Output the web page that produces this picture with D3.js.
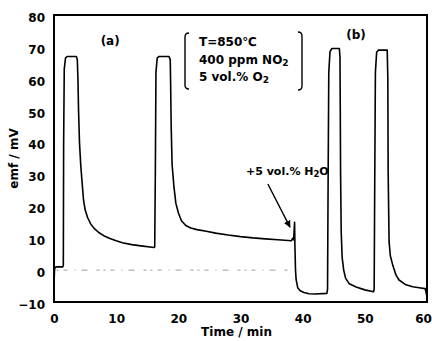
<!DOCTYPE html>
<html>
<head>
<meta charset="utf-8">
<script src="https://cdn.jsdelivr.net/npm/d3@7"></script>
<style>
  body { margin: 0; background: #fff; }
  text { font-family: "DejaVu Sans", sans-serif; font-weight: bold; fill: #000; }
</style>
</head>
<body>
<svg id="chart" width="432" height="341"></svg>
<script>
// emf trace: [time / min, emf / mV]
const emfTrace = [
  [0, -4], [0.1, 0.5], [0.3, 1], [1.4, 1], [1.5, 1.5], [1.55, 40], [1.65, 63], [1.85, 66.5],
  [2.1, 67], [3.6, 67], [3.75, 66], [3.85, 60], [3.95, 50], [4.1, 40], [4.3, 33], [4.5, 28],
  [4.75, 22], [5.0, 19], [5.4, 16.5], [5.9, 14.5], [6.5, 13], [7.2, 11.8], [8.0, 10.8],
  [9.0, 9.9], [10.0, 9.2], [11.0, 8.6], [12.5, 8], [14.0, 7.6], [16.1, 7.1], [16.2, 7.3],
  [16.3, 30], [16.4, 62], [16.6, 66.5], [16.9, 67], [18.5, 67], [18.7, 66], [18.75, 60],
  [18.85, 45], [19.0, 33], [19.3, 26], [19.6, 21], [20.0, 18], [20.5, 15.5], [21.2, 14],
  [22.0, 13.2], [23.0, 12.7], [24.5, 12.2], [26, 11.6], [28, 11], [30, 10.5], [32, 10.1],
  [34, 9.8], [36, 9.5], [38.2, 9.2], [38.4, 10], [38.55, 9.5], [38.7, 15], [38.75, 8],
  [38.85, 0], [38.95, -3], [39.2, -5.5], [39.6, -6.5], [40.2, -7], [41, -7.4], [42, -7.5],
  [43.9, -7.3], [44.0, -6], [44.1, 30], [44.2, 62], [44.4, 68.5], [44.7, 69.5], [45.9, 69.5],
  [46.0, 67], [46.05, 50], [46.1, 30], [46.2, 12], [46.35, 4], [46.6, 0], [46.9, -2.5],
  [47.5, -4.3], [48.6, -5.3], [50, -6.2], [51.4, -6.8], [51.5, -6], [51.6, 30], [51.7, 62],
  [51.9, 68.3], [52.2, 69], [53.6, 69], [53.7, 60], [53.75, 31], [53.9, 9], [54.1, 4.5],
  [54.5, 1.5], [55, -1.5], [55.5, -3.1], [56.5, -4.5], [57.7, -5.2], [59, -5.6], [59.7, -5.8],
  [59.85, -7], [60, -8.5]
];

const xTicks = [0, 10, 20, 30, 40, 50, 60];
const yTicks = [-10, 0, 10, 20, 30, 40, 50, 60, 70, 80];
const conditions = [["T=850℃"], ["400 ppm NO", "2"], ["5 vol.% O", "2"]];

const svg = d3.select("#chart");
const x = d3.scaleLinear().domain([0, 60]).range([54, 427]);
const y = d3.scaleLinear().domain([-10, 80]).range([302, 15]);

// baseline at 0 mV, faint and broken like the scan
svg.append("line")
  .attr("x1", x(0.4)).attr("x2", x(38))
  .attr("y1", y(0)).attr("y2", y(0))
  .attr("stroke", "#9a9a9a")
  .attr("stroke-width", 1)
  .attr("stroke-dasharray", "2,5,4,7,1,6,6,9,3,4");

svg.append("path")
  .datum(emfTrace)
  .attr("fill", "none")
  .attr("stroke", "#000")
  .attr("stroke-width", 1.6)
  .attr("stroke-linejoin", "round")
  .attr("d", d3.line().x(d => x(d[0])).y(d => y(d[1])));

// frame
svg.append("rect")
  .attr("x", x(0)).attr("y", y(80))
  .attr("width", x(60) - x(0)).attr("height", y(-10) - y(80))
  .attr("fill", "none").attr("stroke", "#000").attr("stroke-width", 2);

const yAxis = svg.append("g")
  .attr("transform", `translate(${x(0)},0)`)
  .call(d3.axisLeft(y).tickValues(yTicks).tickSize(0).tickPadding(9));
yAxis.select(".domain").remove();
yAxis.selectAll("text").attr("font-size", 12).attr("dy", "0.53em")
  .attr("font-family", "DejaVu Sans").attr("font-weight", "bold");

const xAxis = svg.append("g")
  .attr("transform", `translate(0,${y(-10)})`)
  .call(d3.axisBottom(x).tickValues(xTicks).tickSize(0).tickPadding(12));
xAxis.select(".domain").remove();
xAxis.selectAll("text").attr("font-size", 12)
  .attr("font-family", "DejaVu Sans").attr("font-weight", "bold")
  .attr("dx", d => d === 60 ? -4 : 0);

svg.append("text")
  .attr("x", (x(0) + x(60)) / 2 - 4).attr("y", 336)
  .attr("text-anchor", "middle").attr("font-size", 12)
  .text("Time / min");

svg.append("text")
  .attr("transform", `translate(18,${(y(-10) + y(80)) / 2}) rotate(-90)`)
  .attr("text-anchor", "middle").attr("font-size", 12)
  .text("emf / mV");

svg.append("text").attr("x", x(7.5)).attr("y", y(70.5)).attr("font-size", 12).text("(a)");
svg.append("text").attr("x", x(47)).attr("y", y(72.5)).attr("font-size", 12).text("(b)");

// conditions box with brackets
const box = svg.append("g");
conditions.forEach((c, i) => {
  const t = box.append("text").attr("x", 199).attr("y", 46 + i * 17.5).attr("font-size", 12);
  t.append("tspan").text(c[0]);
  if (c[1]) t.append("tspan").attr("font-size", 9).attr("dy", 2).text(c[1]);
});
box.append("path")
  .attr("d", "M189,33 Q185,33 185,37 L185,85 Q185,89 189,89")
  .attr("fill", "none").attr("stroke", "#000").attr("stroke-width", 1.4);
box.append("path")
  .attr("d", "M298,32 Q302,32 302,36 L302,86 Q302,90 298,90")
  .attr("fill", "none").attr("stroke", "#000").attr("stroke-width", 1.4);

// water addition arrow
svg.append("defs").append("marker")
  .attr("id", "head").attr("viewBox", "0 0 10 10")
  .attr("refX", 9).attr("refY", 5)
  .attr("markerWidth", 7).attr("markerHeight", 8)
  .attr("markerUnits", "userSpaceOnUse")
  .attr("orient", "auto")
  .append("path").attr("d", "M0,0 L10,5 L0,10 Z").attr("fill", "#000");

svg.append("line")
  .attr("x1", x(34.4)).attr("y1", y(27))
  .attr("x2", x(37.96)).attr("y2", y(13.5))
  .attr("stroke", "#000").attr("stroke-width", 1.4)
  .attr("marker-end", "url(#head)");

const h2o = svg.append("text").attr("x", 246).attr("y", 175).attr("font-size", 11);
h2o.append("tspan").text("+5 vol.% H");
h2o.append("tspan").attr("font-size", 8.5).attr("dy", 2).text("2");
h2o.append("tspan").attr("dy", -2).text("O");
</script>
</body>
</html>
